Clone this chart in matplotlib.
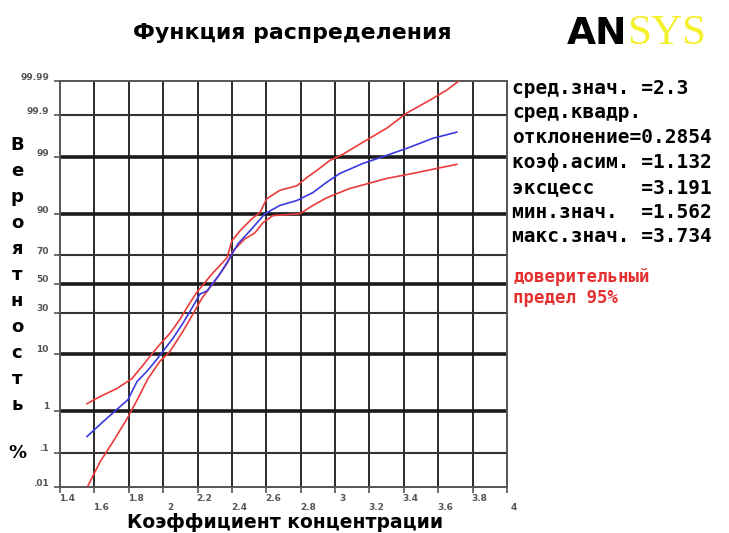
import math
from statistics import NormalDist
import numpy as np
import matplotlib
matplotlib.use("Agg")
import matplotlib.pyplot as plt
import matplotlib.transforms as mtransforms

# values: x = concentration coefficient, p = probability in %
blue_x = [1.557, 1.650, 1.749, 1.795, 1.848, 1.906, 1.964, 1.999, 2.057, 2.115,
          2.167, 2.214, 2.255, 2.330, 2.388, 2.435, 2.505, 2.592, 2.679, 2.778,
          2.871, 2.952, 3.028, 3.162, 3.301, 3.435, 3.569, 3.708]
blue_p = [0.26, 0.58, 1.23, 1.7, 3.7, 5.5, 8.4, 10.9, 16.0, 23.6,
          32.9, 42.7, 44.9, 57.3, 68.4, 76.9, 83.5, 90.1, 92.5, 93.7,
          95.3, 96.9, 97.86, 98.64, 99.08, 99.39, 99.62, 99.73]

upper_x = [1.557, 1.633, 1.731, 1.819, 1.877, 1.923, 1.981, 2.040, 2.098, 2.144,
           2.197, 2.284, 2.371, 2.400, 2.447, 2.516, 2.563, 2.603, 2.679, 2.778,
           2.836, 2.894, 2.970, 3.045, 3.162, 3.301, 3.417, 3.551, 3.650, 3.720]
upper_p = [1.42, 1.96, 2.77, 4.17, 6.55, 9.24, 13.46, 18.35, 25.95, 34.3,
           44.2, 57.3, 68.4, 78.6, 83.5, 88.4, 90.5, 94.1, 95.7, 96.4,
           97.45, 98.13, 98.82, 99.125, 99.53, 99.785, 99.913, 99.962, 99.981, 99.99]

lower_x = [1.563, 1.633, 1.708, 1.790, 1.853, 1.912, 1.981, 2.040, 2.115, 2.173,
           2.226, 2.301, 2.371, 2.406, 2.476, 2.534, 2.580, 2.638, 2.720, 2.795,
           2.871, 2.952, 3.086, 3.144, 3.301, 3.452, 3.592, 3.708]
lower_p = [0.011, 0.056, 0.192, 0.68, 1.79, 4.17, 7.81, 10.86, 19.3, 29.0,
           39.8, 52.2, 64.4, 72.8, 79.6, 82.6, 86.9, 89.5, 89.8, 90.1,
           92.5, 94.3, 96.0, 96.4, 97.35, 97.86, 98.29, 98.58]

x_ticks = [1.4, 1.6, 1.8, 2.0, 2.2, 2.4, 2.6, 2.8, 3.0, 3.2, 3.4, 3.6, 3.8, 4.0]
x_tick_labels = ["1.4", "1.6", "1.8", "2", "2.2", "2.4", "2.6", "2.8", "3",
                 "3.2", "3.4", "3.6", "3.8", "4"]
y_ticks = [0.01, 0.1, 1, 10, 30, 50, 70, 90, 99, 99.9, 99.99]
y_tick_labels = [".01", ".1", "1", "10", "30", "50", "70", "90", "99", "99.9", "99.99"]
y_thick = [1, 10, 50, 90, 99]

stats_names = ["сред.знач. ", "сред.квадр.", "отклонение", "коэф.асим. ",
               "эксцесс    ", "мин.знач.  ", "макс.знач. "]
stats_values = ["=2.3", "", "=0.2854", "=1.132", "=3.191", "=1.562", "=3.734"]

nd = NormalDist()
_inv = np.vectorize(nd.inv_cdf, otypes=[float])
_erf = np.vectorize(math.erf, otypes=[float])


def prob_to_z(p):
    p = np.clip(np.asarray(p, dtype=float), 1e-7, 100 - 1e-7) / 100.0
    return _inv(p)


def z_to_prob(z):
    z = np.asarray(z, dtype=float)
    return 50.0 * (1 + _erf(z / math.sqrt(2)))


W, H = 729, 533
fig = plt.figure(figsize=(W / 100, H / 100), dpi=100)
ax = fig.add_axes([60 / W, 1 - 487 / H, 447 / W, 406 / H])
ax.set_yscale("function", functions=(prob_to_z, z_to_prob))
ax.set_xlim(1.4, 4.0)
ax.set_ylim(0.01, 99.99)

# grid
for xv in x_ticks[1:-1]:
    ax.axvline(xv, color="#2a2a2a", lw=1.4, zorder=1)
for yv in y_ticks[1:-1]:
    if yv in y_thick:
        ax.axhline(yv, color="#1a1a1a", lw=2.6, zorder=1)
    else:
        ax.axhline(yv, color="#333333", lw=1.5, zorder=1)

ax.plot(upper_x, upper_p, color="#ec3b3b", lw=1.2, zorder=3)
ax.plot(lower_x, lower_p, color="#ec3b3b", lw=1.2, zorder=3)
ax.plot(blue_x, blue_p, color="#3a3ae0", lw=1.2, zorder=4)

for s in ax.spines.values():
    s.set_color("#555555")
    s.set_linewidth(1.4)

ax.set_xticks(x_ticks)
ax.set_xticklabels([lb if i % 2 == 0 else "\n" + lb for i, lb in enumerate(x_tick_labels)])
ax.set_yticks(y_ticks)
ax.set_yticklabels(y_tick_labels)
ax.yaxis.set_minor_locator(matplotlib.ticker.NullLocator())
ax.tick_params(axis="both", direction="out", length=4, width=1.2, color="#555555",
               labelsize=6.5, labelcolor="#555555")
ax.tick_params(axis="x", pad=1)
ax.tick_params(axis="y", pad=4)
shift_x = mtransforms.ScaledTranslation(7 / 100, 0, fig.dpi_scale_trans)
for lbl in ax.get_xticklabels():
    lbl.set_transform(lbl.get_transform() + shift_x)
    lbl.set_fontweight("bold")
    lbl.set_linespacing(1.05)
shift_y = mtransforms.ScaledTranslation(0, 5 / 100, fig.dpi_scale_trans)
for lbl in ax.get_yticklabels():
    lbl.set_transform(lbl.get_transform() + shift_y)
    lbl.set_fontweight("bold")

# title and logo
fig.text(292 / W, 1 - 33 / H, "Функция распределения", ha="center", va="center",
         fontsize=15.8, fontweight="bold", family="DejaVu Sans")
fig.text(567 / W, 1 - 34 / H, "AN", ha="left", va="center", fontsize=27,
         fontweight="bold", family="DejaVu Sans", color="black")
fig.text(627 / W, 1 - 34 / H, "SYS", ha="left", va="center", fontsize=31,
         family="Liberation Serif", color="#f4f02a")

# axis labels
fig.text(285 / W, 1 - 522 / H, "Коэффициент концентрации", ha="center", va="center",
         fontsize=13.5, fontweight="bold")
for i, ch in enumerate("Вероятность"):
    fig.text(17 / W, 1 - (145 + i * 26) / H, ch, ha="center", va="center",
             fontsize=13, fontweight="bold")
fig.text(17 / W, 1 - 453 / H, "%", ha="center", va="center", fontsize=13, fontweight="bold")

# statistics block
for i, (name, val) in enumerate(zip(stats_names, stats_values)):
    fig.text(512 / W, 1 - (88 + i * 24.8) / H, name + val, ha="left", va="center",
             fontsize=14, fontweight="bold", family="DejaVu Sans Mono")
fig.text(513 / W, 1 - 277 / H, "доверительный", ha="left", va="center",
         fontsize=12.5, fontweight="bold", family="DejaVu Sans Mono", color="#e43030")
fig.text(513 / W, 1 - 298 / H, "предел 95%", ha="left", va="center",
         fontsize=12.5, fontweight="bold", family="DejaVu Sans Mono", color="#e43030")

fig.savefig("out.png", dpi=100, facecolor="white")
